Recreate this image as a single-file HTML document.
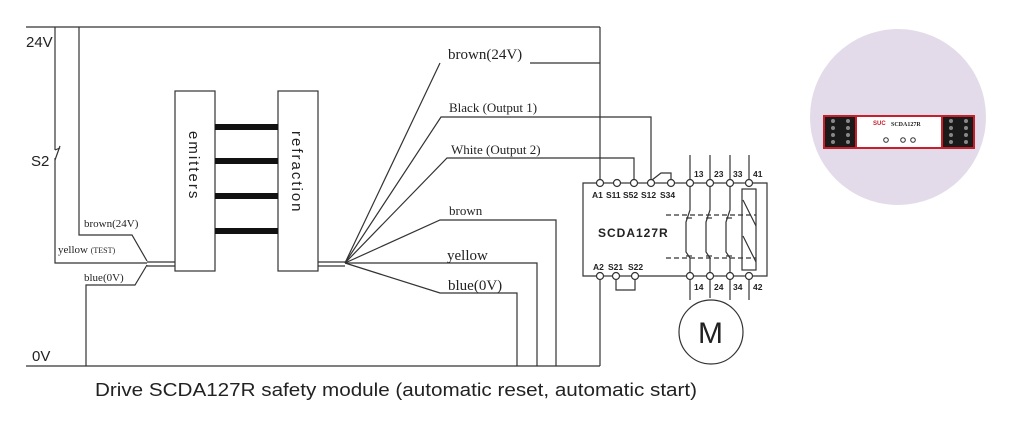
<!DOCTYPE html>
<html><head><meta charset="utf-8"><style>
html,body{margin:0;padding:0;background:#fff;width:1033px;height:427px;overflow:hidden}
svg{display:block}
.s{font-family:"Liberation Serif",serif;fill:#222}
.a{font-family:"Liberation Sans",sans-serif;fill:#222}
</style></head><body>
<svg width="1033" height="427" viewBox="0 0 1033 427" xmlns="http://www.w3.org/2000/svg">
<g stroke="#333" stroke-width="1.2" fill="none">
<line x1="26" y1="27" x2="600" y2="27"/>
<line x1="26" y1="366" x2="600" y2="366"/>
<line x1="600" y1="27" x2="600" y2="180"/>
<line x1="600" y1="279" x2="600" y2="366"/>
<polyline points="55,27 55,150"/>
<line x1="55" y1="150" x2="60" y2="148"/>
<line x1="60" y1="146" x2="55" y2="160"/>
<polyline points="55,158 55,263 147,263"/>
<polyline points="79,27 79,235 132,235 147,261"/>
<polyline points="147,265 135,285 86,285 86,366"/>
<line x1="147" y1="262" x2="175" y2="262"/>
<line x1="147" y1="266" x2="175" y2="266"/>
<rect x="175" y="91" width="40" height="180"/>
<rect x="278" y="91" width="40" height="180"/>
<line x1="318" y1="262" x2="345" y2="262"/>
<line x1="318" y1="266" x2="345" y2="266"/>
<polyline points="345,263 440,63"/>
<polyline points="530,63 600,63"/>
<polyline points="345,263 441,117 651,117 651,180"/>
<polyline points="345,263 447,158 634,158 634,180"/>
<polyline points="345,263 440,220 556,220 556,366"/>
<polyline points="345,263 537,263 537,366"/>
<polyline points="345,263 440,293 517,293 517,366"/>
<polyline points="597,183 583,183 583,276 597,276"/>
<line x1="604" y1="183" x2="613" y2="183"/><line x1="621" y1="183" x2="630" y2="183"/>
<line x1="638" y1="183" x2="647" y2="183"/><line x1="655" y1="183" x2="667" y2="183"/>
<line x1="675" y1="183" x2="686" y2="183"/><line x1="694" y1="183" x2="706" y2="183"/>
<line x1="714" y1="183" x2="726" y2="183"/><line x1="734" y1="183" x2="745" y2="183"/>
<polyline points="753,183 767,183 767,276 753,276"/>
<line x1="604" y1="276" x2="612" y2="276"/><line x1="620" y1="276" x2="631" y2="276"/>
<line x1="639" y1="276" x2="686" y2="276"/><line x1="694" y1="276" x2="706" y2="276"/>
<line x1="714" y1="276" x2="726" y2="276"/><line x1="734" y1="276" x2="745" y2="276"/>
<polyline points="652,180 661,173 671,173 671,180"/>
<polyline points="616,279 616,290 635,290 635,279"/>
<g fill="#fff">
<circle cx="600" cy="183" r="3.5"/><circle cx="617" cy="183" r="3.5"/><circle cx="634" cy="183" r="3.5"/>
<circle cx="651" cy="183" r="3.5"/><circle cx="671" cy="183" r="3.5"/><circle cx="690" cy="183" r="3.5"/>
<circle cx="710" cy="183" r="3.5"/><circle cx="730" cy="183" r="3.5"/><circle cx="749" cy="183" r="3.5"/>
<circle cx="600" cy="276" r="3.5"/><circle cx="616" cy="276" r="3.5"/><circle cx="635" cy="276" r="3.5"/>
<circle cx="690" cy="276" r="3.5"/><circle cx="710" cy="276" r="3.5"/><circle cx="730" cy="276" r="3.5"/>
<circle cx="749" cy="276" r="3.5"/>
</g>
<line x1="690" y1="155" x2="690" y2="180"/><line x1="710" y1="155" x2="710" y2="180"/>
<line x1="730" y1="155" x2="730" y2="180"/><line x1="749" y1="155" x2="749" y2="180"/>
<g>
<polyline points="690,186 690,210 686,222 686,252 690,258 690,273"/>
<polyline points="710,186 710,210 706,222 706,252 710,258 710,273"/>
<polyline points="730,186 730,210 726,222 726,252 730,258 730,273"/>
<line x1="686" y1="218" x2="692" y2="218"/><line x1="706" y1="218" x2="712" y2="218"/><line x1="726" y1="218" x2="732" y2="218"/>
<line x1="686" y1="256" x2="692" y2="256"/><line x1="706" y1="256" x2="712" y2="256"/><line x1="726" y1="256" x2="732" y2="256"/>
<rect x="742" y="189" width="14" height="81"/>
<line x1="743" y1="200" x2="756" y2="226"/>
<line x1="743" y1="236" x2="756" y2="262"/>
</g>
<line x1="666" y1="215" x2="756" y2="215" stroke-dasharray="5,3"/>
<line x1="666" y1="258" x2="756" y2="258" stroke-dasharray="5,3"/>
<line x1="690" y1="279" x2="690" y2="300"/><line x1="710" y1="279" x2="710" y2="298"/>
<line x1="730" y1="279" x2="730" y2="300"/><line x1="749" y1="279" x2="749" y2="300"/>
<circle cx="711" cy="332" r="32"/>
</g>
<g fill="#111">
<rect x="215" y="124" width="63" height="6"/><rect x="215" y="158" width="63" height="6"/>
<rect x="215" y="193" width="63" height="6"/><rect x="215" y="228" width="63" height="6"/>
</g>
<g class="a" font-size="15">
<text x="26" y="47">24V</text>
<text x="31" y="166">S2</text>
<text x="32" y="361">0V</text>
</g>
<g class="s" font-size="11">
<text x="84" y="227">brown(24V)</text>
<text x="58" y="253">yellow <tspan font-size="8">(TEST)</tspan></text>
<text x="84" y="281">blue(0V)</text>
</g>
<text class="a" font-size="15" letter-spacing="2" transform="translate(189,131) rotate(90)">emitters</text>
<text class="a" font-size="15" letter-spacing="2" transform="translate(292,131) rotate(90)">refraction</text>
<g class="s">
<text x="448" y="59" font-size="15">brown(24V)</text>
<text x="449" y="112" font-size="13">Black (Output 1)</text>
<text x="451" y="154" font-size="13">White (Output 2)</text>
<text x="449" y="215" font-size="13">brown</text>
<text x="447" y="260" font-size="15">yellow</text>
<text x="448" y="290" font-size="15">blue(0V)</text>
</g>
<g class="a" font-size="8.5" font-weight="bold" fill="#333">
<text x="592" y="198">A1</text><text x="606" y="198">S11</text><text x="623" y="198">S52</text>
<text x="641" y="198">S12</text><text x="660" y="198">S34</text>
<text x="593" y="270">A2</text><text x="608" y="270">S21</text><text x="628" y="270">S22</text>
<text x="694" y="177">13</text><text x="714" y="177">23</text><text x="733" y="177">33</text><text x="753" y="177">41</text>
<text x="694" y="290">14</text><text x="714" y="290">24</text><text x="733" y="290">34</text><text x="753" y="290">42</text>
</g>
<text class="a" font-size="12" font-weight="bold" letter-spacing="1" x="598" y="237" fill="#333">SCDA127R</text>
<text class="a" font-size="30" x="698" y="343" fill="#333">M</text>
<text class="a" font-size="18" x="95" y="396" textLength="602" lengthAdjust="spacingAndGlyphs">Drive SCDA127R safety module (automatic reset, automatic start)</text>
<circle cx="898" cy="117" r="88" fill="#e3dbea"/>
<rect x="823" y="115" width="152" height="34" fill="#c8202a"/>
<rect x="825" y="117" width="30" height="30" fill="#1a1a1a"/>
<rect x="943" y="117" width="30" height="30" fill="#1a1a1a"/>
<rect x="857" y="117" width="84" height="30" fill="#fff"/>
<g fill="#888">
<circle cx="833" cy="121" r="2"/><circle cx="833" cy="128" r="2"/><circle cx="833" cy="135" r="2"/><circle cx="833" cy="142" r="2"/>
<circle cx="848" cy="121" r="2"/><circle cx="848" cy="128" r="2"/><circle cx="848" cy="135" r="2"/><circle cx="848" cy="142" r="2"/>
<circle cx="951" cy="121" r="2"/><circle cx="951" cy="128" r="2"/><circle cx="951" cy="135" r="2"/><circle cx="951" cy="142" r="2"/>
<circle cx="966" cy="121" r="2"/><circle cx="966" cy="128" r="2"/><circle cx="966" cy="135" r="2"/><circle cx="966" cy="142" r="2"/>
</g>
<text x="873" y="125" font-family="Liberation Sans,sans-serif" font-size="6" font-weight="bold" fill="#c8202a">SUC</text>
<text x="891" y="126" font-family="Liberation Serif,serif" font-size="6" font-weight="bold" fill="#222">SCDA127R</text>
<g fill="none" stroke="#333" stroke-width="1"><circle cx="886" cy="140" r="2.3"/><circle cx="903" cy="140" r="2.3"/><circle cx="913" cy="140" r="2.3"/></g>
</svg>
</body></html>
